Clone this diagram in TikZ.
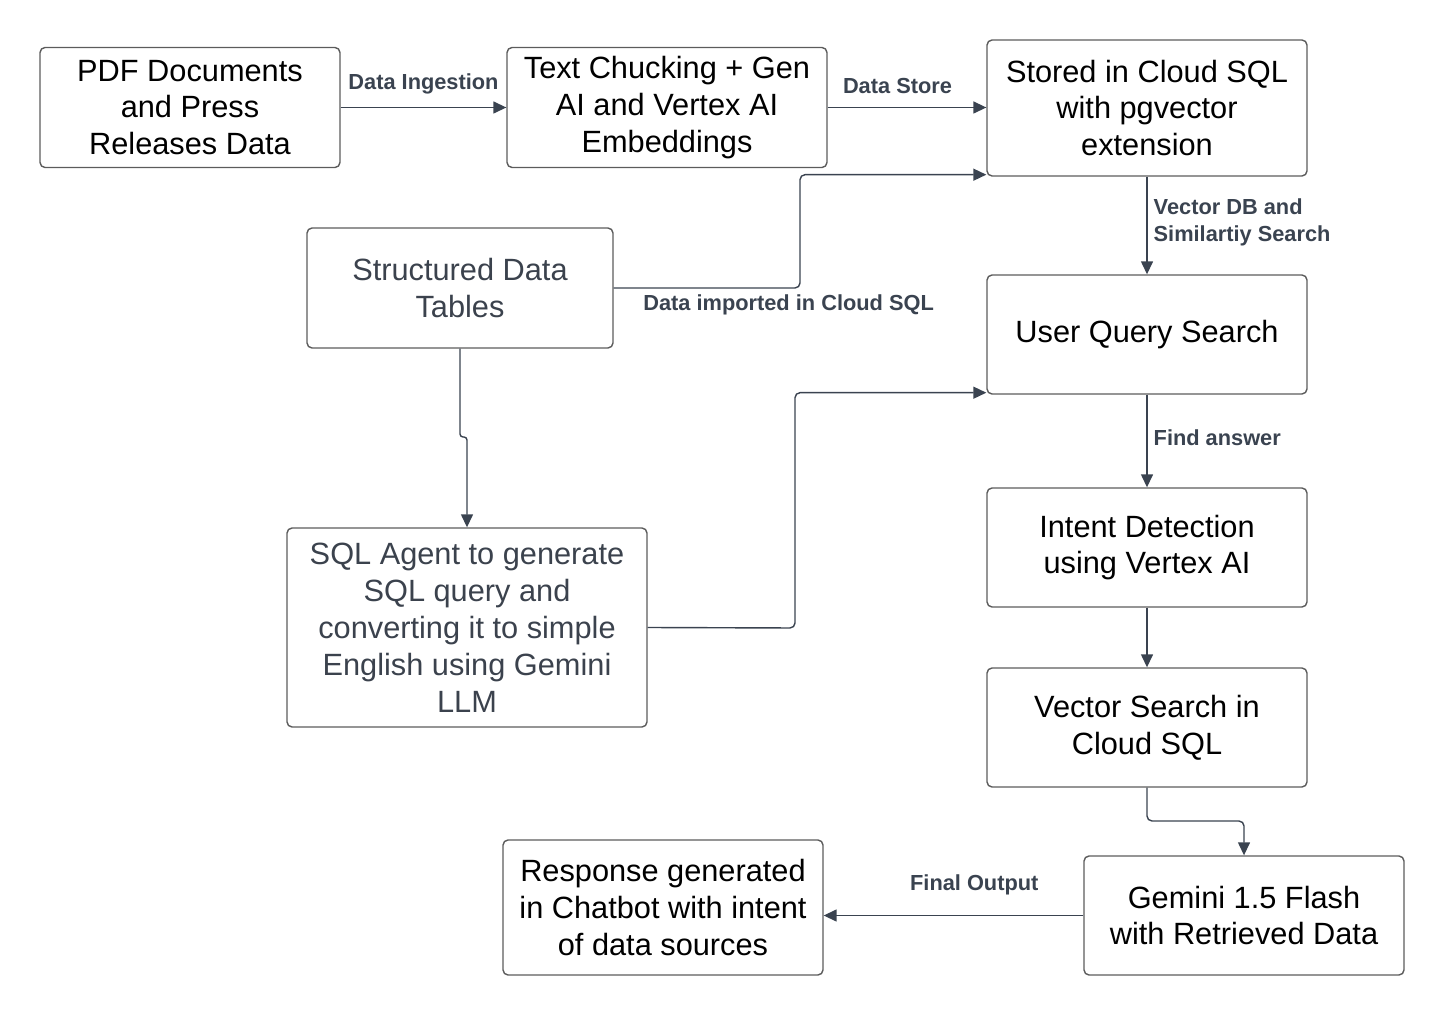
\documentclass[tikz,border=0pt]{standalone}
\usepackage{fontspec}
\setmainfont{Liberation Sans}
\usetikzlibrary{arrows.meta}
\definecolor{linegray}{HTML}{3A4350}
\definecolor{boxgray}{HTML}{5C5C5C}
\definecolor{softtext}{HTML}{3B424D}
\begin{document}
\begin{tikzpicture}[x=0.02cm,y=-0.02cm,>={Triangle[length=0.26cm,width=0.24cm]},line join=round,
	box/.style={draw=boxgray,line width=0.8pt,rounded corners=0.1cm,align=center,inner sep=0pt,font=\fontsize{17.5}{21}\selectfont},
	lab/.style={text=linegray,inner sep=0pt,font=\fontsize{12.4}{15.3}\selectfont\bfseries},
	link/.style={draw=linegray,line width=0.8pt,->,rounded corners=0.1cm}]
	\useasboundingbox (0,0) rectangle (1447,1016);
	% boxes
	\node[box,minimum width=6cm,minimum height=2.4cm] (pdf) at (190,107.5) {PDF Documents\\and Press\\Releases Data};
	\node[box,minimum width=6.4cm,minimum height=2.4cm] (chunk) at (667,107.5) {Text Chucking + Gen\\AI and Vertex AI\\Embeddings};
	\node[box,minimum width=6.4cm,minimum height=2.72cm] (store) at (1147,108) {Stored in Cloud SQL\\with pgvector\\extension};
	\node[box,text=softtext,minimum width=6.12cm,minimum height=2.4cm] (tables) at (460,288) {Structured Data\\Tables};
	\node[box,minimum width=6.4cm,minimum height=2.38cm] (query) at (1147,334.5) {User Query Search};
	\node[box,text=softtext,minimum width=7.2cm,minimum height=3.98cm] (agent) at (467,627.5) {SQL Agent to generate\\SQL query and\\converting it to simple\\English using Gemini\\LLM};
	\node[box,minimum width=6.4cm,minimum height=2.38cm] (intent) at (1147,547.5) {Intent Detection\\using Vertex AI};
	\node[box,minimum width=6.4cm,minimum height=2.38cm] (vsearch) at (1147,727.5) {Vector Search in\\Cloud SQL};
	\node[box,minimum width=6.4cm,minimum height=2.38cm] (gemini) at (1244,915.5) {Gemini 1.5 Flash\\with Retrieved Data};
	\node[box,minimum width=6.4cm,minimum height=2.7cm] (reply) at (663,907.5) {Response generated\\in Chatbot with intent\\of data sources};
	% connectors
	\draw[link] (pdf.east) -- node[lab,above=0.26cm]{Data Ingestion} (chunk.west);
	\draw[link] (chunk.east) -- node[lab,above=0.26cm,pos=0.44]{Data Store} (chunk.east -| store.west);
	\draw[link] (tables.east) -- (800,288) |- ([yshift=0.04cm]store.south west);
	\node[lab,anchor=north west] (importlab) at (643,294) {Data imported in Cloud SQL};
	\draw[link] (store) -- node[lab,align=left,right=0.12cm,yshift=0.06cm]{Vector DB and\\Similartiy Search} (query);
	\draw[link,rounded corners=0.06cm] (tables.south) -- (460,437) -| (agent.north);
	\draw[link] (agent.east) -- (795,628) |- ([yshift=0.04cm]query.south west);
	\draw[link] (query) -- node[lab,right=0.12cm,yshift=0.06cm]{Find answer} (intent);
	\draw[link] (intent) -- (vsearch);
	\draw[link] (vsearch.south) -- (1147,821) -| (gemini.north);
	\draw[link] (gemini.west) -- node[lab,above=0.4cm,pos=0.42]{Final Output} (gemini.west -| reply.east);
\end{tikzpicture}
\end{document}
